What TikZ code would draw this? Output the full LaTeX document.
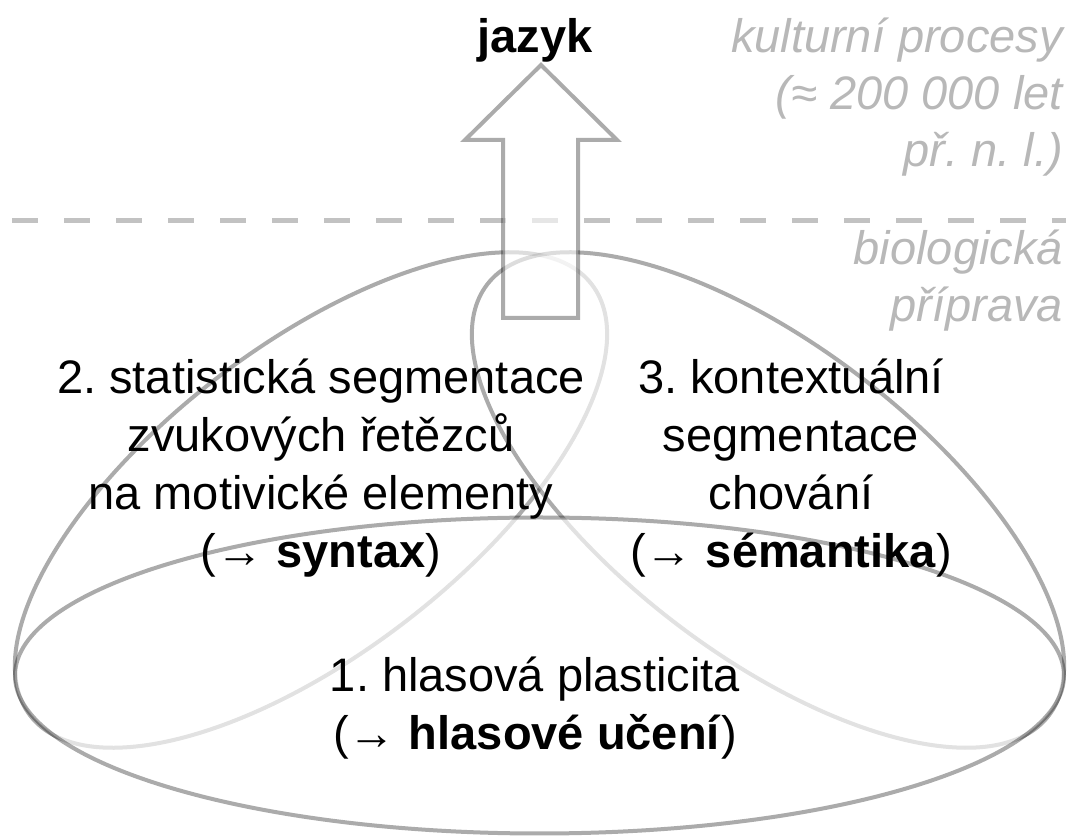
\documentclass[tikz,border=0pt]{standalone}
\usepackage{fontspec}
\setmainfont{Liberation Sans}
\usetikzlibrary{positioning}
\frenchspacing

\definecolor{paleink}{gray}{0.72}
\definecolor{rimgray}{gray}{0.76}

\begin{document}
\begin{tikzpicture}[x=1pt,y=1pt,
    petal/.style={draw=black,draw opacity=0.33,line width=4pt,fill=white,fill opacity=0.65},
    bigarrow/.style={draw=black,draw opacity=0.33,line width=4pt,fill=white,fill opacity=0.6},
    stage/.style={align=center,font=\fontsize{47}{58}\selectfont,inner sep=0pt,anchor=base},
    epoch/.style={align=right,font=\fontsize{47}{57}\selectfont\itshape,text=paleink,inner sep=0pt,anchor=base east}]
\useasboundingbox (0,0) rectangle (1072,836);

\coordinate (era west) at (12,615);
\coordinate (era east) at (1066,615);
\draw[rimgray,line width=5pt,dash pattern=on 26pt off 26pt] (era west) -- (era east);

\coordinate (syn) at (311,336);
\coordinate (sem) at (768,336);
\coordinate (voc) at (539.5,160.5);
\draw[petal,rotate around={37.5:(syn)}] (syn) ellipse (354 and 154);
\draw[petal,rotate around={-37.5:(sem)}] (sem) ellipse (354 and 154);
\draw[petal] (voc) ellipse (524.5 and 158);

\draw[bigarrow] (503,518) -- (503,696) -- (465,696) -- (541,771)
  -- (617,696) -- (578,696) -- (578,518) -- cycle;

% base = baseline of the last line
\node[stage] (lang) at (535,783) {\textbf{jazyk}};
\node[epoch] (culture) at (1063,669) {kulturní procesy\\(≈ 200 000 let\\př. n. l.)};
\node[epoch] (biology) at (1063,514) {biologická\\příprava};

\node[stage] (syntax) at (321,268) {2. statistická segmentace\\zvukových řetězců\\na motivické elementy\\(→ \textbf{syntax})};
\node[stage] (semantics) at (791,268) {3. kontextuální\\segmentace\\chování\\(→ \textbf{sémantika})};
\node[stage] (learning) at (535,86) {1. hlasová plasticita\\(→ \textbf{hlasové učení})};
\end{tikzpicture}
\end{document}
